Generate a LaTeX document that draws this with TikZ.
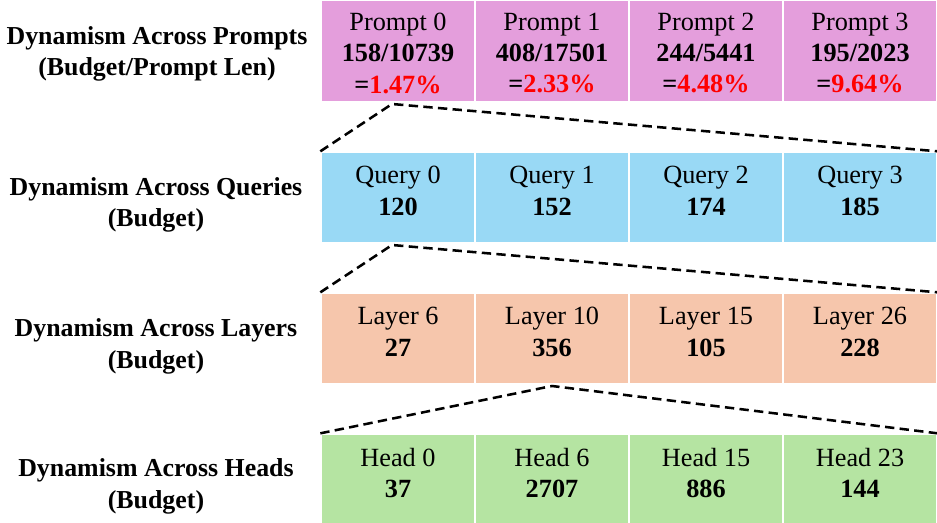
\documentclass[tikz,border=0pt]{standalone}
\usepackage{fontspec}
\setmainfont{Liberation Serif}
\definecolor{promptfill}{RGB}{228,158,220}
\definecolor{queryfill}{RGB}{153,217,245}
\definecolor{layerfill}{RGB}{246,198,172}
\definecolor{headfill}{RGB}{181,228,162}
\definecolor{pctred}{RGB}{255,0,0}
\begin{document}
\begin{tikzpicture}[x=0.75pt,y=-0.75pt,
  cell/.style={rectangle, draw=white, line width=1pt, minimum width=115.5pt, inner sep=0pt},
  celltext/.style={align=center, inner sep=0pt, font=\fontsize{19.7}{23.6}\selectfont},
  rowlabel/.style={align=center, inner sep=0pt, font=\fontsize{19.4}{23.6}\selectfont\bfseries},
  zoomline/.style={black, line width=1.9pt, dash pattern=on 7pt off 4pt}]
\useasboundingbox (0,0) rectangle (937,523);
\fill[white] (0,0) rectangle (937,523);

% --- prompt row ---
\foreach \i/\x in {0/398,1/552,2/706,3/860}
  \node[cell, fill=promptfill, minimum height=76.5pt] (p\i) at (\x,51) {};
\node[celltext] (tp0) at (398,53) {Prompt 0\\\textbf{158/10739}\\\textbf{=\textcolor{pctred}{1.47\%}}};
\node[celltext] (tp1) at (552,53) {Prompt 1\\\textbf{408/17501}\\\textbf{=\textcolor{pctred}{2.33\%}}};
\node[celltext] (tp2) at (706,53) {Prompt 2\\\textbf{244/5441}\\\textbf{=\textcolor{pctred}{4.48\%}}};
\node[celltext] (tp3) at (860,53) {Prompt 3\\\textbf{195/2023}\\\textbf{=\textcolor{pctred}{9.64\%}}};

% --- query row ---
\foreach \i/\x/\b in {0/398/120,1/552/152,2/706/174,3/860/185}{
  \node[cell, fill=queryfill, minimum height=68.25pt] (q\i) at (\x,197.5) {};
  \node[celltext] (tq\i) at (\x,191) {Query \i\\\textbf{\b}};
}

% --- layer row ---
\foreach \i/\x/\n/\b in {0/398/6/27,1/552/10/356,2/706/15/105,3/860/26/228}{
  \node[cell, fill=layerfill, minimum height=68.25pt] (l\i) at (\x,338.5) {};
  \node[celltext] (tl\i) at (\x,332) {Layer \n\\\textbf{\b}};
}

% --- head row ---
\foreach \i/\x/\n/\b in {0/398/0/37,1/552/6/2707,2/706/15/886,3/860/23/144}{
  \node[cell, fill=headfill, minimum height=67.5pt] (h\i) at (\x,479) {};
  \node[celltext] (th\i) at (\x,473) {Head \n\\\textbf{\b}};
}

% --- row labels ---
\node[rowlabel] (lp) at (157,54) {Dynamism Across Prompts\\(Budget/Prompt Len)};
\node[rowlabel] (lq) at (156,205) {Dynamism Across Queries\\(Budget)};
\node[rowlabel] (ll) at (156,346.5) {Dynamism Across Layers\\(Budget)};
\node[rowlabel] (lh) at (156,486.5) {Dynamism Across Heads\\(Budget)};

% --- zoom-in guides ---
\draw[zoomline] (q0.north west) -- ([xshift=-4.5pt,yshift=-1pt]p0.south) -- (q3.north east);
\draw[zoomline] (l0.north west) -- ([xshift=-4.5pt,yshift=-1pt]q0.south) -- (l3.north east);
\draw[zoomline] (h0.north west) -- ([yshift=-1pt]l1.south) -- (h3.north east);
\end{tikzpicture}
\end{document}
